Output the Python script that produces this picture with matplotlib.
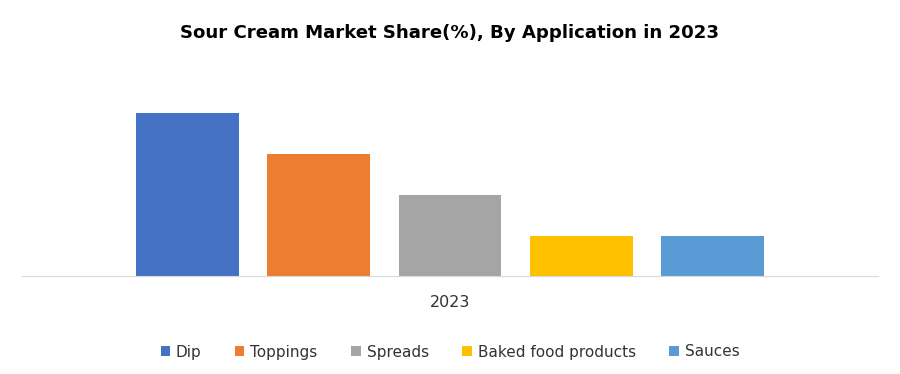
import matplotlib.pyplot as plt
import numpy as np

categories = ['Dip', 'Toppings', 'Spreads', 'Baked food products', 'Sauces']
values = [40, 30, 20, 9.8, 9.8]
colors = ['#4472C4', '#ED7D31', '#A5A5A5', '#FFC000', '#5B9BD5']
year = '2023'

fig = plt.figure(figsize=(9, 3.74), dpi=100)
ax = fig.add_axes([22 / 900, 1 - 276 / 374, 856 / 900, (276 - 93) / 374])

width = 0.1203
step = 0.1536
offsets = (np.arange(len(categories)) - 2) * step
for off, v, c, lab in zip(offsets, values, colors, categories):
    ax.bar(off, v, width=width, color=c, label=lab)

ax.set_xlim(-0.5, 0.5)
ax.set_ylim(0, 45)
ax.set_yticks([])
ax.set_xticks([0])
ax.set_xticklabels([year], fontsize=11.5, color='#333333')
ax.tick_params(axis='x', length=0, pad=14)
for s in ['top', 'right', 'left']:
    ax.spines[s].set_visible(False)
ax.spines['bottom'].set_color('#d9d9d9')

fig.text(0.5, 1 - 33 / 374, 'Sour Cream Market Share(%), By Application in 2023',
         ha='center', va='center', fontsize=13.1, fontweight='bold', color='black')

fig.legend(loc='center', bbox_to_anchor=(0.5, 1 - 352 / 374), ncol=5, frameon=False,
           fontsize=11, handlelength=0.6, handleheight=0.6, columnspacing=2.2,
           handletextpad=0.4, labelcolor='#333333')

fig.savefig('out.png', dpi=100)
